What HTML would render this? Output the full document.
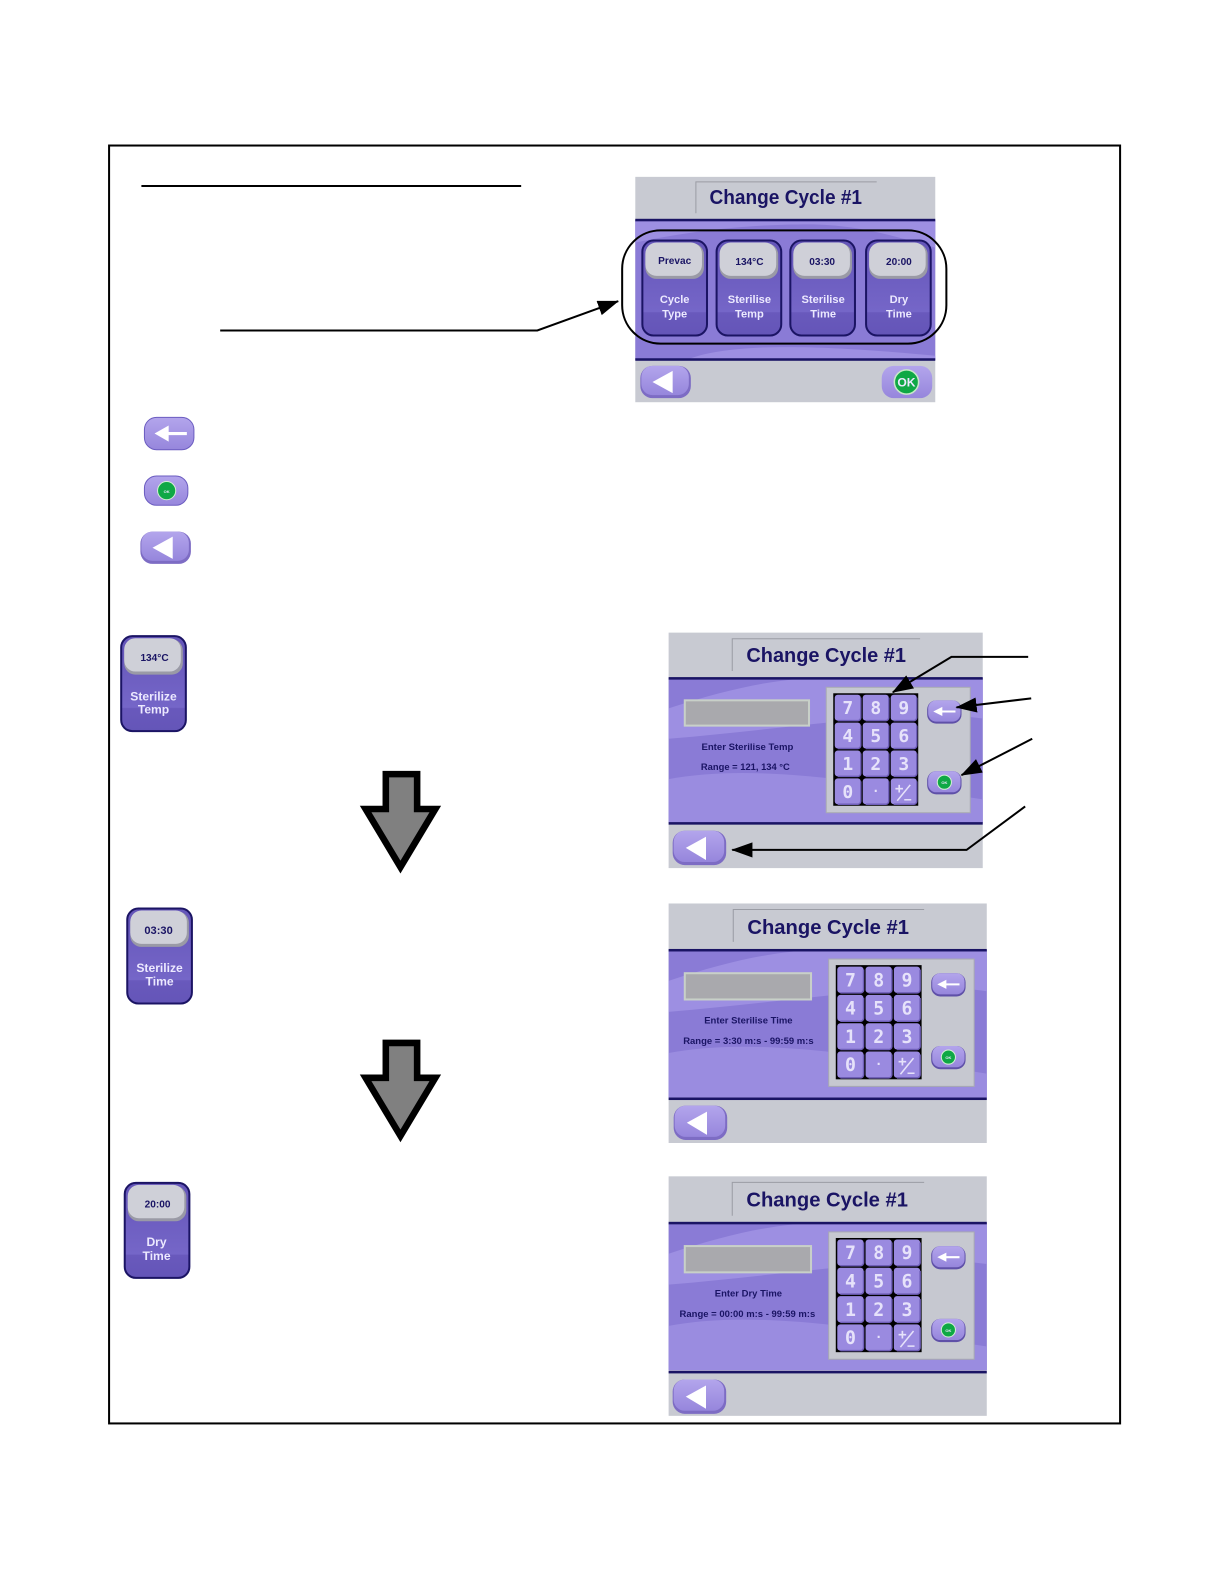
<!DOCTYPE html>
<html><head><meta charset="utf-8"><style>
html,body{margin:0;padding:0;background:#fff}
svg{display:block}
text{font-family:"Liberation Sans",sans-serif;font-weight:bold;text-anchor:middle}
.t{fill:#1a1464}
.w{fill:#ece9ff}
.k{font-family:"DejaVu Sans Mono","Liberation Mono",monospace;fill:#e6e2fa;font-size:18px}
</style></head><body>
<svg width="1224" height="1584" viewBox="0 0 1224 1584" xmlns="http://www.w3.org/2000/svg">
<defs>
<marker id="a" markerWidth="22" markerHeight="16" refX="20" refY="7.500" orient="auto" markerUnits="userSpaceOnUse"><path d="M0 0L21 7.500L0 15z" fill="#000"/></marker>
<linearGradient id="pb" x1="0" y1="0" x2="0" y2="1"><stop offset="0" stop-color="#b3a5ec"/><stop offset="1" stop-color="#9686dc"/></linearGradient>
<linearGradient id="tl" x1="0" y1="0" x2="0" y2="1"><stop offset="0" stop-color="#6455b8"/><stop offset=".75" stop-color="#7566c8"/><stop offset=".76" stop-color="#6959bc"/><stop offset="1" stop-color="#6455b8"/></linearGradient>
<g id="bk"><rect x="0" y="0" width="50" height="32" rx="12" fill="#7d6cc4"/><rect x="1" y="0" width="47" height="29" rx="11" fill="url(#pb)"/><path d="M12 16L32 5V27z" fill="#fff"/></g>
<g id="bk2"><rect x="0" y="0" width="53" height="34" rx="12" fill="#7d6cc4"/><rect x="1" y="0" width="50" height="31" rx="11" fill="url(#pb)"/><path d="M13 17L33 6V29z" fill="#fff"/></g>
<g id="bs"><rect x="0" y="0" width="34" height="23" rx="9" fill="#5f50a8"/><rect x="1" y="0" width="32" height="21" rx="8" fill="url(#pb)"/><path d="M6 11L15 6.500V10H28V12H15V15.500z" fill="#fff"/></g>
<g id="ok"><rect x="0" y="0" width="34" height="23" rx="9" fill="#5f50a8"/><rect x="1" y="0" width="32" height="21" rx="8" fill="url(#pb)"/><circle cx="17" cy="11" r="7" fill="#0fa845" stroke="#d5f0d5" stroke-width="1"/><text class="w" x="17" y="13" font-size="4">OK</text></g>
<g id="kb"><rect width="26" height="26" rx="3" fill="#9a8ae0"/><path d="M26 3V23a3 3 0 0 1-3 3H3" fill="none" stroke="#6f5fb8" stroke-width="1.500"/></g>
<g id="pad">
<rect x="-7" y="-6" width="144" height="126" fill="#c6c8d0" stroke="#a8aab2" stroke-width="1"/>
<rect x="0" y="0" width="85" height="113" fill="#000"/>
<use href="#kb" x="1.500" y="1.500"/><use href="#kb" x="29.500" y="1.500"/><use href="#kb" x="57.500" y="1.500"/>
<use href="#kb" x="1.500" y="29.500"/><use href="#kb" x="29.500" y="29.500"/><use href="#kb" x="57.500" y="29.500"/>
<use href="#kb" x="1.500" y="57.500"/><use href="#kb" x="29.500" y="57.500"/><use href="#kb" x="57.500" y="57.500"/>
<use href="#kb" x="1.500" y="85.500"/><use href="#kb" x="29.500" y="85.500"/><use href="#kb" x="57.500" y="85.500"/>
<text class="k" x="14.500" y="21">7</text><text class="k" x="42.500" y="21">8</text><text class="k" x="70.500" y="21">9</text>
<text class="k" x="14.500" y="49">4</text><text class="k" x="42.500" y="49">5</text><text class="k" x="70.500" y="49">6</text>
<text class="k" x="14.500" y="77">1</text><text class="k" x="42.500" y="77">2</text><text class="k" x="70.500" y="77">3</text>
<text class="k" x="14.500" y="105">0</text><text class="k" x="42.500" y="102" style="font-size:12px">·</text>
<text class="k" x="66" y="100" style="font-size:14px">+</text><path d="M64 108L77 92" stroke="#e6e2fa" stroke-width="1.500"/><path d="M71 107H78" stroke="#e6e2fa" stroke-width="1.500"/>
</g>
<g id="wv"><rect width="311" height="143" fill="#8a7bd6"/><path d="M0 30C60 10 110 0 150 0H311V40C240 30 120 50 0 60z" fill="#9d8fe2"/><path d="M0 100C80 85 180 100 311 120V143H0z" fill="#9a8ce0"/></g>
<g id="dn"><path d="M382 766H413V800.500H431L396.500 858L362 800.500H382z" fill="#808080" stroke="#000" stroke-width="6.500" stroke-miterlimit="8"/></g>
<g id="tile"><rect x="1" y="1" width="64" height="94" rx="11" fill="url(#tl)" stroke="#1b1464" stroke-width="2"/><rect x="4" y="4" width="58" height="35" rx="11" fill="#9a9aa6"/><rect x="4" y="3" width="56" height="33" rx="11" fill="#cfd0d8"/></g>
</defs>

<g transform="scale(1.01 1.0106)">
<rect x="108" y="144" width="1001" height="1264.500" fill="#fff" stroke="#000" stroke-width="2"/>
<line x1="140" y1="184" x2="516" y2="184" stroke="#000" stroke-width="2"/>

<!-- Panel 1 -->
<rect x="629" y="175" width="297" height="223" fill="#c8cad2"/>
<path d="M689 211V180H868" fill="none" stroke="#9a9ca4" stroke-width="1"/>
<text class="t" x="778" y="202" font-size="20" textLength="151" lengthAdjust="spacingAndGlyphs">Change Cycle #1</text>
<rect x="629" y="218" width="297" height="138" fill="#8a7bd6"/>
<path d="M629 240C700 225 760 222 800 222C850 222 890 235 926 245V218H629z" fill="#9d8fe2"/>
<path d="M680 356C720 340 800 340 926 352V356z" fill="#9d8fe2"/>
<rect x="629" y="216.500" width="297" height="2.500" fill="#1a1464"/>
<rect x="629" y="354.500" width="297" height="2.500" fill="#1a1464"/>
<use href="#tile" x="635" y="237"/><use href="#tile" x="708.500" y="237"/><use href="#tile" x="781.500" y="237"/><use href="#tile" x="856.500" y="237"/>
<text class="t" x="668" y="261" font-size="10">Prevac</text>
<text class="t" x="742" y="262" font-size="10">134°C</text>
<text class="t" x="814" y="262" font-size="10">03:30</text>
<text class="t" x="890" y="262" font-size="10">20:00</text>
<text class="w" x="668" y="300" font-size="11">Cycle</text><text class="w" x="668" y="314" font-size="11">Type</text>
<text class="w" x="742" y="300" font-size="11">Sterilise</text><text class="w" x="742" y="314" font-size="11">Temp</text>
<text class="w" x="815" y="300" font-size="11">Sterilise</text><text class="w" x="815" y="314" font-size="11">Time</text>
<text class="w" x="890" y="300" font-size="11">Dry</text><text class="w" x="890" y="314" font-size="11">Time</text>
<rect x="616" y="228" width="321" height="112" rx="38" fill="none" stroke="#000" stroke-width="2"/>
<use href="#bk" x="634" y="362"/>
<rect x="873" y="362" width="50" height="32" rx="12" fill="url(#pb)"/>
<circle cx="897.500" cy="378" r="12" fill="#0fa845" stroke="#c8e8c8" stroke-width="1.500"/>
<text class="w" x="897.500" y="382.500" font-size="12">OK</text>
<path d="M218 327H532L612 298" fill="none" stroke="#000" stroke-width="2" marker-end="url(#a)"/>

<!-- Legend -->
<rect x="143" y="413" width="49" height="32" rx="12" fill="url(#pb)" stroke="#6b5cc0"/>
<path d="M153 429L167 421V427.500H185V430.500H167V437z" fill="#fff"/>
<rect x="143" y="471" width="43" height="29" rx="12" fill="url(#pb)" stroke="#6b5cc0"/>
<circle cx="165" cy="485.500" r="9" fill="#0fa845" stroke="#d5f0d5"/>
<text class="w" x="165" y="488" font-size="4">OK</text>
<use href="#bk" x="139" y="526"/>

<!-- Tiles -->
<use href="#tile" x="119" y="628.500"/>
<text class="t" x="153" y="654" font-size="10">134°C</text>
<text class="w" x="152" y="693" font-size="12">Sterilize</text><text class="w" x="152" y="706" font-size="12">Temp</text>
<use href="#tile" x="125" y="898"/>
<text class="t" x="157" y="924" font-size="11">03:30</text>
<text class="w" x="158" y="962" font-size="12">Sterilize</text><text class="w" x="158" y="975" font-size="12">Time</text>
<use href="#tile" x="122.500" y="1169.500"/>
<text class="t" x="156" y="1195" font-size="10">20:00</text>
<text class="w" x="155" y="1233" font-size="12">Dry</text><text class="w" x="155" y="1247" font-size="12">Time</text>

<use href="#dn"/>
<use href="#dn" y="266"/>

<!-- Panel 2 -->
<rect x="662" y="626" width="311" height="233" fill="#c8cad2"/>
<use href="#wv" x="662" y="671"/>
<rect x="662" y="670" width="311" height="2.500" fill="#1a1464"/>
<rect x="662" y="813.500" width="311" height="2.500" fill="#1a1464"/>
<path d="M725 664V632H911" fill="none" stroke="#9a9ca4"/>
<text class="t" x="818" y="655" font-size="20" textLength="158" lengthAdjust="spacingAndGlyphs">Change Cycle #1</text>
<rect x="678" y="693" width="123" height="25" fill="#a9a9ad" stroke="#c8d0c8" stroke-width="2"/>
<text class="t" x="740" y="742" font-size="9.500">Enter Sterilise Temp</text>
<text class="t" x="738" y="762" font-size="9.300">Range = 121, 134 °C</text>
<use href="#pad" transform="translate(825 686) scale(.99 .985)"/>
<use href="#bs" x="918" y="693"/>
<use href="#ok" x="918" y="763"/>
<use href="#bk2" x="666" y="822"/>
<path d="M1018 650H942L884 685" fill="none" stroke="#000" stroke-width="2" marker-end="url(#a)"/>
<path d="M1021 691L947 700" fill="none" stroke="#000" stroke-width="2" marker-end="url(#a)"/>
<path d="M1022 731L952 767" fill="none" stroke="#000" stroke-width="2" marker-end="url(#a)"/>
<path d="M1015 798L957 841H725" fill="none" stroke="#000" stroke-width="2" marker-end="url(#a)"/>

<!-- Panel 3 -->
<rect x="662" y="894" width="315" height="237" fill="#c8cad2"/>
<use href="#wv" transform="translate(662 940) scale(1.013 1.020)"/>
<rect x="662" y="939" width="315" height="2.500" fill="#1a1464"/>
<rect x="662" y="1086" width="315" height="2.500" fill="#1a1464"/>
<path d="M726 932V900H915" fill="none" stroke="#9a9ca4"/>
<text class="t" x="820" y="924" font-size="20" textLength="160" lengthAdjust="spacingAndGlyphs">Change Cycle #1</text>
<rect x="678" y="963" width="125" height="26" fill="#a9a9ad" stroke="#c8d0c8" stroke-width="2"/>
<text class="t" x="741" y="1013" font-size="9.400">Enter Sterilise Time</text>
<text class="t" x="741" y="1033" font-size="9.400">Range = 3:30 m:s - 99:59 m:s</text>
<use href="#pad" x="827.500" y="955"/>
<use href="#bs" x="922" y="963"/>
<use href="#ok" x="922" y="1035"/>
<use href="#bk2" x="667" y="1094"/>

<!-- Panel 4 -->
<rect x="662" y="1164" width="315" height="237" fill="#c8cad2"/>
<use href="#wv" transform="translate(662 1210) scale(1.013 1.020)"/>
<rect x="662" y="1209" width="315" height="2.500" fill="#1a1464"/>
<rect x="662" y="1356.500" width="315" height="2.500" fill="#1a1464"/>
<path d="M725 1203V1170H915" fill="none" stroke="#9a9ca4"/>
<text class="t" x="819" y="1194" font-size="20" textLength="160" lengthAdjust="spacingAndGlyphs">Change Cycle #1</text>
<rect x="678" y="1233" width="125" height="26" fill="#a9a9ad" stroke="#c8d0c8" stroke-width="2"/>
<text class="t" x="741" y="1283" font-size="9.400">Enter Dry Time</text>
<text class="t" x="740" y="1303" font-size="9.400">Range = 00:00 m:s - 99:59 m:s</text>
<use href="#pad" x="827.500" y="1225"/>
<use href="#bs" x="922" y="1233"/>
<use href="#ok" x="922" y="1305"/>
<use href="#bk2" x="666" y="1365"/>
</g>
</svg>
</body></html>
